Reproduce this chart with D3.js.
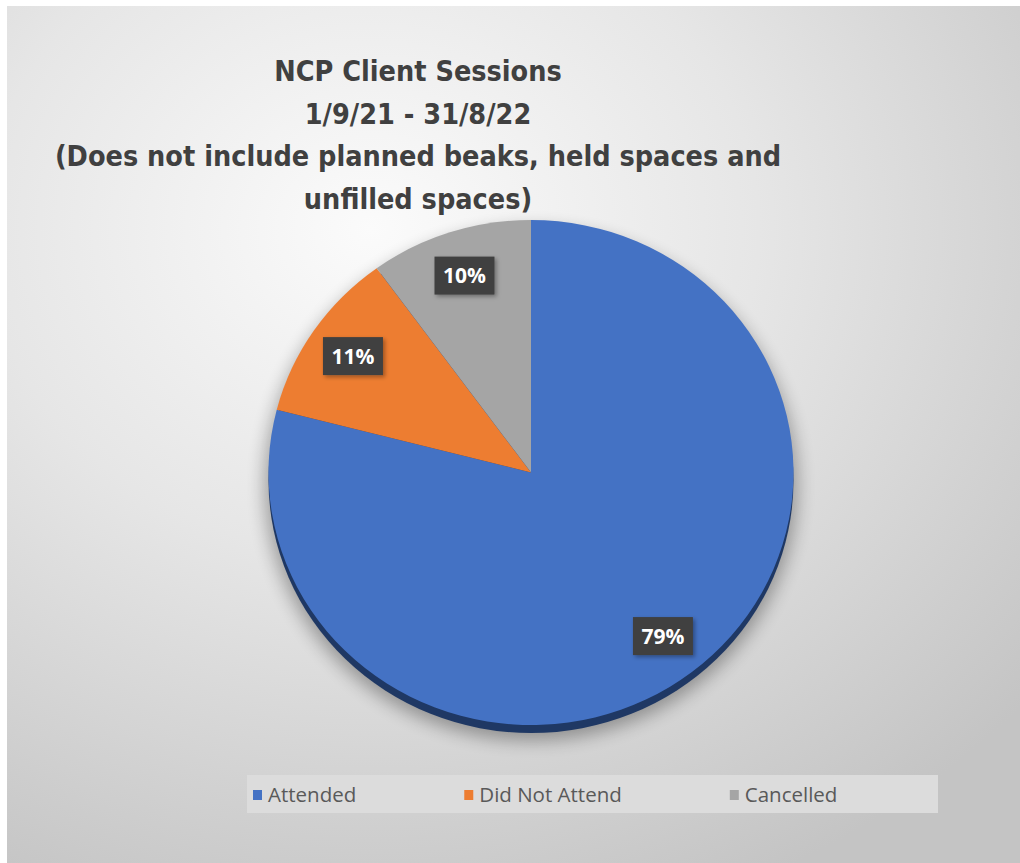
<!DOCTYPE html>
<html>
<head>
<meta charset="utf-8">
<script src="https://cdn.jsdelivr.net/npm/d3@7"></script>
<style>
  body { margin: 0; background: #ffffff; }
  svg { display: block; }
</style>
</head>
<body>
<script>
// Session outcomes, as shares of all client sessions
const categories = ["Attended", "Did Not Attend", "Cancelled"];
const percentages = [79, 11, 10];
const sliceColors = ["#4472c4", "#ed7d31", "#a5a5a5"];
const titleLines = [
  "NCP Client Sessions",
  "1/9/21 - 31/8/22",
  "(Does not include planned beaks, held spaces and",
  "unfilled spaces)"
];

const W = 1020, H = 863;
const svg = d3.select("body").append("svg").attr("width", W).attr("height", H);
const defs = svg.append("defs");

// Chart area background: soft radial gradient
const bg = defs.append("radialGradient").attr("id", "bgGrad")
  .attr("cx", "0.36").attr("cy", "0.26").attr("r", "0.85");
bg.append("stop").attr("offset", "0").attr("stop-color", "#fbfbfb");
bg.append("stop").attr("offset", "0.45").attr("stop-color", "#e6e6e6");
bg.append("stop").attr("offset", "1").attr("stop-color", "#c4c4c4");

const shadow = defs.append("filter").attr("id", "pieShadow")
  .attr("x", "-20%").attr("y", "-20%").attr("width", "140%").attr("height", "140%");
shadow.append("feGaussianBlur").attr("stdDeviation", 9);

const lblShadow = defs.append("filter").attr("id", "lblShadow")
  .attr("x", "-30%").attr("y", "-30%").attr("width", "160%").attr("height", "160%");
lblShadow.append("feDropShadow").attr("dx", 2).attr("dy", 2)
  .attr("stdDeviation", 2).attr("flood-color", "#000").attr("flood-opacity", 0.35);

svg.append("rect").attr("x", 7).attr("y", 6).attr("width", W - 7).attr("height", H - 6)
  .attr("fill", "url(#bgGrad)");

// Title
const title = svg.append("text")
  .attr("text-anchor", "middle")
  .attr("font-family", "'DejaVu Sans Condensed', 'Open Sans', sans-serif")
  .attr("font-weight", "bold")
  .attr("font-size", 28.5)
  .attr("fill", "#404040");
titleLines.forEach((t, i) => {
  title.append("tspan").attr("x", 418).attr("y", 81 + i * 42.5).text(t);
});

// Pie geometry
const cx = 531, cy = 472.5, rx = 262.5, ry = 252.5;
const sy = ry / rx;

const pie = d3.pie().sort(null).value(d => d)(percentages);
const arc = d3.arc().innerRadius(0).outerRadius(rx);
const labelArc = d3.arc().innerRadius(rx * 0.82).outerRadius(rx * 0.82);

const pg = svg.append("g").attr("transform", `translate(${cx},${cy}) scale(1,${sy})`);

// soft shadow beneath the pie
pg.append("circle").attr("cx", 0).attr("cy", 12 / sy).attr("r", rx + 4)
  .attr("fill", "#000").attr("opacity", 0.32).attr("filter", "url(#pieShadow)");
// dark bevel rim along the lower edge
pg.append("circle").attr("cx", 0).attr("cy", 8 / sy).attr("r", rx)
  .attr("fill", "#1f3864");

pg.selectAll("path.slice").data(pie).join("path")
  .attr("class", "slice")
  .attr("d", arc)
  .attr("fill", (d, i) => sliceColors[i]);

// Data labels
const lg = svg.append("g");
pie.forEach((d, i) => {
  const c = labelArc.centroid(d);
  const x = cx + c[0], y = cy + c[1] * sy;
  const g = lg.append("g").attr("transform", `translate(${x},${y})`);
  g.append("rect").attr("x", -30).attr("y", -19).attr("width", 60).attr("height", 38)
    .attr("fill", "#404040").attr("filter", "url(#lblShadow)");
  g.append("text").attr("text-anchor", "middle").attr("dy", "0.36em")
    .attr("font-family", "'Open Sans', 'Noto Sans', sans-serif")
    .attr("font-weight", "bold").attr("font-size", 21)
    .attr("fill", "#ffffff")
    .text(percentages[i] + "%");
});

// Legend
svg.append("rect").attr("x", 247).attr("y", 775).attr("width", 691).attr("height", 38)
  .attr("fill", "#dcdcdc");
let lx = 253;
categories.forEach((name, i) => {
  svg.append("rect").attr("x", lx).attr("y", 790).attr("width", 9).attr("height", 10)
    .attr("fill", sliceColors[i]);
  const t = svg.append("text").attr("x", lx + 15).attr("y", 802)
    .attr("font-family", "'Open Sans', 'Noto Sans', sans-serif")
    .attr("font-size", 20.5).attr("fill", "#595959")
    .text(name);
  lx += 15 + t.node().getComputedTextLength() + 108;
});
</script>
</body>
</html>
